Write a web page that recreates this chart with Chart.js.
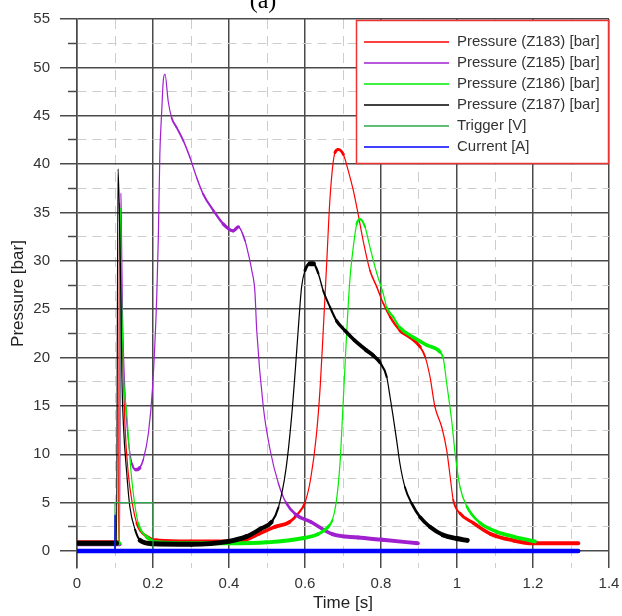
<!DOCTYPE html>
<html lang="en">
<head>
<meta charset="UTF-8" />
<title>Pressure traces (a)</title>
<style>
  html, body { margin: 0; padding: 0; background: #fff; }
  canvas { display: block; }
</style>
<script src="https://cdn.jsdelivr.net/npm/chart.js"></script>
</head>
<body>
<canvas id="chart" width="622" height="616"></canvas>
<script>
// DATA  [time (s), value]
const z183 = [[0, 0.9], [0.05, 0.9], [0.109, 0.9], [0.112, 36.0], [0.1145, 30.5], [0.1175, 25.2], [0.122, 18.4],
  [0.126, 13.2], [0.135, 8.0], [0.144, 5.3], [0.157, 2.9], [0.183, 1.5], [0.21, 1.1], [0.3, 1.0], [0.4, 1.0],
  [0.445, 1.2], [0.48, 1.8], [0.521, 2.5], [0.559, 3.0], [0.58, 3.8], [0.6, 5.0], [0.615, 7.5], [0.63, 12.0],
  [0.64, 17.0], [0.648, 22.8], [0.657, 29.7], [0.666, 36.6], [0.679, 41.2], [0.688, 41.5], [0.701, 41.0],
  [0.714, 39.3], [0.727, 37.3], [0.74, 34.8], [0.753, 32.1], [0.771, 29.0], [0.789, 27.3], [0.806, 25.6],
  [0.824, 24.2], [0.85, 22.8], [0.876, 22.1], [0.903, 21.1], [0.916, 20.1], [0.929, 18.0], [0.942, 14.9],
  [0.96, 12.8], [0.973, 10.4], [0.982, 7.7], [0.99, 5.3], [1.008, 3.9], [1.043, 2.9], [1.087, 1.8],
  [1.148, 1.1], [1.2, 0.8], [1.319, 0.8]];

const z185 = [[0, 0.7], [0.112, 0.7], [0.1155, 37.0], [0.117, 33.0], [0.1195, 25.0], [0.126, 16.6], [0.135, 11.5],
  [0.145, 9.0], [0.155, 8.4], [0.165, 8.6], [0.174, 9.4], [0.188, 12.2], [0.199, 17.0], [0.21, 26.5],
  [0.214, 32.4], [0.218, 41.0], [0.223, 45.5], [0.227, 48.6], [0.2316, 49.3], [0.24, 46.5], [0.249, 44.8],
  [0.262, 43.8], [0.28, 42.4], [0.297, 40.7], [0.315, 38.6], [0.332, 36.9], [0.359, 35.2], [0.385, 33.8],
  [0.411, 33.1], [0.425, 33.5], [0.442, 32.1], [0.451, 30.7], [0.46, 29.0], [0.468, 26.9], [0.473, 22.8],
  [0.49, 15.0], [0.508, 10.5], [0.53, 7.0], [0.55, 5.0], [0.575, 3.8], [0.616, 3.0], [0.672, 1.75],
  [0.74, 1.4], [0.804, 1.17], [0.897, 0.8]];

const z186 = [[0, 0.8], [0.111, 0.8], [0.114, 35.5], [0.1175, 25.9], [0.122, 18.4], [0.131, 14.2], [0.139, 9.7],
  [0.148, 6.0], [0.161, 2.9], [0.183, 1.5], [0.21, 0.9], [0.3, 0.8], [0.4, 0.8], [0.5, 0.9], [0.597, 1.35],
  [0.634, 1.75], [0.663, 2.6], [0.672, 3.2], [0.682, 5.0], [0.692, 9.0], [0.70, 15.0], [0.71, 22.8],
  [0.718, 28.0], [0.727, 31.4], [0.736, 33.8], [0.745, 34.3], [0.758, 33.5], [0.771, 31.4], [0.789, 28.7],
  [0.806, 26.6], [0.815, 25.2], [0.832, 24.2], [0.85, 23.1], [0.885, 22.1], [0.92, 21.3], [0.955, 20.6],
  [0.964, 19.9], [0.973, 17.3], [0.986, 13.5], [0.995, 10.1], [1.008, 6.6], [1.026, 4.6], [1.061, 2.9],
  [1.104, 2.0], [1.148, 1.5], [1.205, 1.0]];

const z187 = [[0, 0.8], [0.104, 0.8], [0.108, 39.5], [0.113, 32.1], [0.116, 25.2], [0.118, 18.4], [0.122, 13.2],
  [0.131, 8.0], [0.139, 4.6], [0.153, 2.2], [0.166, 1.1], [0.2, 0.75], [0.3, 0.7], [0.399, 1.0], [0.446, 1.5],
  [0.483, 2.3], [0.512, 3.0], [0.53, 4.5], [0.55, 8.5], [0.565, 14.0], [0.575, 19.0], [0.582, 22.8],
  [0.591, 27.3], [0.6, 29.0], [0.613, 29.7], [0.622, 29.7], [0.635, 28.7], [0.648, 26.9], [0.666, 25.2],
  [0.683, 23.8], [0.705, 22.8], [0.73, 21.8], [0.76, 20.8], [0.78, 20.2], [0.797, 19.5], [0.815, 18.0],
  [0.824, 15.9], [0.832, 13.9], [0.841, 11.5], [0.85, 9.0], [0.863, 6.6], [0.881, 4.9], [0.903, 3.5],
  [0.929, 2.5], [0.964, 1.65], [0.999, 1.3], [1.027, 1.1]];

const trigger = [[0, 0], [0.1, 0], [0.1, 5], [0.2, 5], [0.2, 0], [1.32, 0]];
const current = [[0, 0], [0.0995, 0], [0.1, 3.7], [0.1005, 0], [1.319, 0]];

const seriesNames = ['Pressure (Z183) [bar]', 'Pressure (Z185) [bar]', 'Pressure (Z186) [bar]',
  'Pressure (Z187) [bar]', 'Trigger [V]', 'Current [A]'];
const seriesData = [z183, z185, z186, z187, trigger, current];

// STYLE
const FONT = "'Liberation Sans', Arial, sans-serif";
const colors = ['#ff0000', '#a020d0', '#00ee00', '#000000', '#2ca84a', '#0000ff'];
const noiseBand = [4, 4, 4, 5, 0, 4.5]; // apparent thickness of the noisy traces, px
const GRID_DARK = '#4a4a4a';
const GRID_LIGHT = '#cdcdcd';

const onStep = (v, step) => Math.abs(v / step - Math.round(v / step)) < 1e-6;

// flat parts of a noisy trace look thick, steep parts look thin
function bandWidth(h) {
  return c => {
    if (!h) return 1.2;
    const dx = c.p1.x - c.p0.x, dy = c.p1.y - c.p0.y;
    const len = Math.hypot(dx, dy) || 1;
    return Math.max(1.2, h * Math.abs(dx) / len);
  };
}

const datasets = seriesData.map((d, i) => ({
  label: seriesNames[i],
  data: d.map(p => ({ x: p[0], y: p[1] })),
  borderColor: colors[i],
  borderWidth: 1.5,
  borderCapStyle: 'round',
  borderJoinStyle: 'round',
  pointRadius: 0,
  tension: i < 4 ? 0.4 : 0,
  cubicInterpolationMode: i < 4 ? 'monotone' : 'default',
  order: seriesData.length - i, // first series drawn first, current on top
  segment: { borderWidth: bandWidth(noiseBand[i]) }
}));

// legend box + panel caption
const overlay = {
  id: 'overlay',
  afterDraw(chart) {
    const { ctx, chartArea } = chart;
    const w = 253, h = 144;
    const x0 = chartArea.right - w, y0 = chartArea.top + 1;
    ctx.save();
    ctx.fillStyle = '#fff';
    ctx.fillRect(x0, y0, w, h);
    ctx.strokeStyle = '#ee3333';
    ctx.lineWidth = 1.5;
    ctx.strokeRect(x0 + 0.5, y0 + 0.5, w - 1, h - 1);
    ctx.font = '15px ' + FONT;
    ctx.textBaseline = 'middle';
    chart.data.datasets.forEach((ds, i) => {
      const y = y0 + 22 + i * 21;
      ctx.strokeStyle = ds.borderColor;
      ctx.lineWidth = 1.5;
      ctx.beginPath();
      ctx.moveTo(x0 + 8, y);
      ctx.lineTo(x0 + 93, y);
      ctx.stroke();
      ctx.fillStyle = '#333';
      ctx.fillText(ds.label, x0 + 101, y);
    });
    ctx.font = '24px "Liberation Serif", serif';
    ctx.textAlign = 'center';
    ctx.textBaseline = 'alphabetic';
    ctx.fillStyle = '#000';
    ctx.fillText('(a)', 263, 8);
    ctx.restore();
  }
};

new Chart(document.getElementById('chart'), {
  type: 'line',
  data: { datasets },
  plugins: [overlay],
  options: {
    responsive: false,
    animation: false,
    events: [],
    layout: { padding: { top: 18, right: 13, left: 0, bottom: 0 } },
    plugins: { legend: { display: false }, tooltip: { enabled: false } },
    scales: {
      x: {
        type: 'linear', min: 0, max: 1.4,
        afterFit(s) { s.height = 48; s.paddingRight = 0; s.paddingLeft = 0; },
        ticks: {
          stepSize: 0.1, autoSkip: false, maxRotation: 0, padding: 7,
          color: '#333', font: { family: FONT, size: 15 },
          callback: v => { const k = Math.round(v * 10); return k % 2 === 0 ? String(k / 10) : ''; }
        },
        grid: {
          drawTicks: false,
          color: c => (c.tick && !onStep(c.tick.value, 0.2)) ? GRID_LIGHT : GRID_DARK,
          lineWidth: c => (c.tick && !onStep(c.tick.value, 0.2)) ? 1 : 1.5
        },
        border: { display: false, dash: c => (c.tick && !onStep(c.tick.value, 0.2)) ? [10, 7] : [] },
        title: { display: true, text: 'Time [s]', color: '#222', font: { family: FONT, size: 17 }, padding: { top: 0, bottom: 2 } }
      },
      y: {
        type: 'linear', min: -1.75, max: 55,
        afterFit(s) { s.width = 77; },
        ticks: {
          stepSize: 2.5, includeBounds: false, autoSkip: false, padding: 10,
          color: '#333', font: { family: FONT, size: 15 },
          callback: v => onStep(v, 5) ? String(Math.round(v)) : ''
        },
        grid: {
          tickLength: 17,
          color: c => (c.tick && !onStep(c.tick.value, 5)) ? GRID_LIGHT : GRID_DARK,
          lineWidth: c => (c.tick && !onStep(c.tick.value, 5)) ? 1 : 1.5,
          tickColor: GRID_DARK,
          tickWidth: 1.5,
          tickBorderDash: c => (c.tick && !onStep(c.tick.value, 5)) ? [0, 8, 20] : []
        },
        border: {
          display: true, color: GRID_DARK, width: 1.5,
          dash: c => (c.tick && !onStep(c.tick.value, 5)) ? [9, 6] : []
        },
        title: { display: true, text: 'Pressure [bar]', color: '#222', font: { family: FONT, size: 17 }, padding: { top: 8, bottom: 0 } }
      }
    }
  }
});
</script>
</body>
</html>
